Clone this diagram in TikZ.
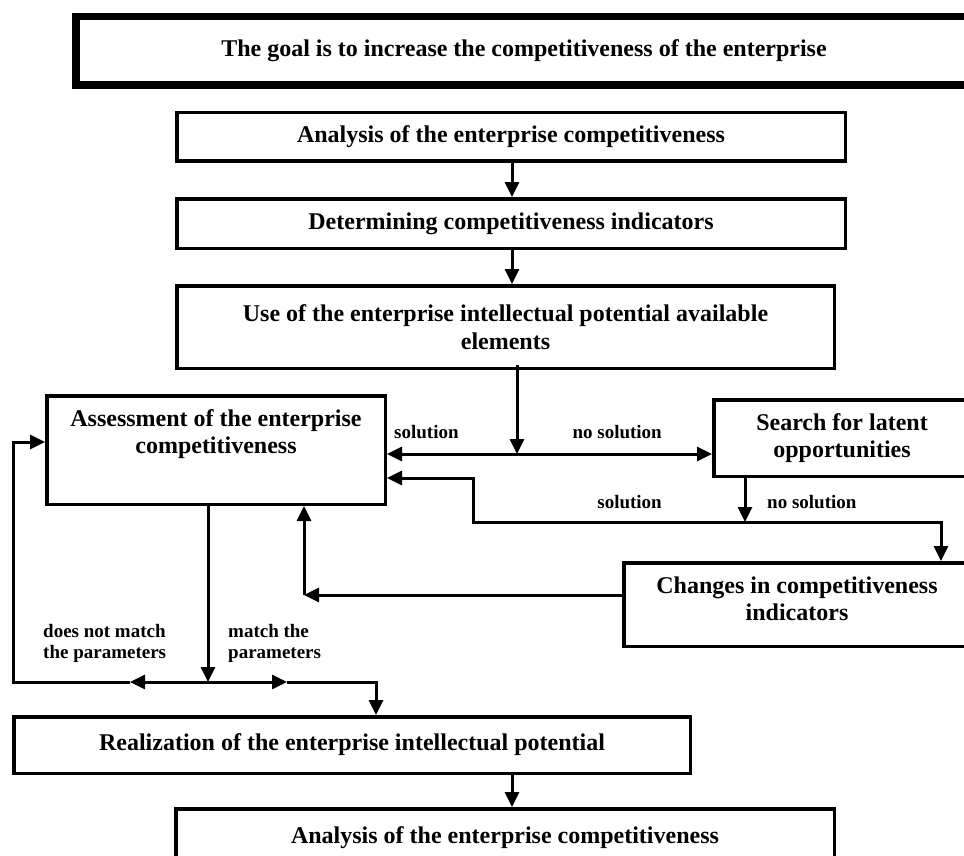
\documentclass[tikz,border=0pt]{standalone}
\usepackage{fontspec}
\setmainfont{Liberation Serif}
\usetikzlibrary{arrows.meta,calc}
\newcommand\dgbig{\bfseries\fontsize{24}{27.5}\selectfont}
\newcommand\dgsmall{\bfseries\fontsize{19}{21}\selectfont}
\begin{document}
\begin{tikzpicture}[x=1pt,y=-1pt,
  box/.style={draw, line width=3.5pt, rectangle, inner sep=0pt, align=center, font=\dgbig},
  goalbox/.style={box, line width=7.5pt},
  txt/.style={inner sep=0pt, align=center, font=\dgbig},
  lbl/.style={inner sep=0pt, align=left, font=\dgsmall},
  arr/.style={line width=3pt, -{Triangle[length=15pt,width=14pt]}},
  darr/.style={line width=3pt, {Triangle[length=15pt,width=14pt]}-{Triangle[length=15pt,width=14pt]}},
  plain/.style={line width=3pt}]
\useasboundingbox (0,0) rectangle (964,856);
\clip (0,0) rectangle (964,856);
\fill[white] (0,0) rectangle (964,856);

% boxes
\node[goalbox, minimum width=896.5pt, minimum height=68.5pt] (goal) at (524,51)
  {The goal is to increase the competitiveness of the enterprise};
\node[box, minimum width=668.5pt, minimum height=48.5pt] (an1) at (511,137)
  {Analysis of the enterprise competitiveness};
\node[box, minimum width=668.5pt, minimum height=49.5pt] (det) at (511,223.5)
  {Determining competitiveness indicators};
\node[box, minimum width=657.5pt, minimum height=82.5pt] (use) at (505.5,327)
  {Use of the enterprise intellectual potential available\\elements};
\node[box, minimum width=338.5pt, minimum height=108.5pt] (assess) at (216,450) {};
\node[txt] (assesst) at (216,434) {Assessment of the enterprise\\competitiveness};
\node[box, minimum width=256.5pt, minimum height=76.5pt] (search) at (842,438)
  {Search for latent\\opportunities};
\node[box, minimum width=346.5pt, minimum height=83.5pt] (changes) at (797,604.5) {};
\node[txt] (changest) at (797,599) {Changes in competitiveness\\indicators};
\node[box, minimum width=676.5pt, minimum height=56.5pt] (real) at (352,745)
  {Realization of the enterprise intellectual potential};
\node[box, minimum width=658.5pt, minimum height=58.5pt] (an2) at (505,838)
  {Analysis of the enterprise competitiveness};

% coordinates
\coordinate (j1) at (517,454);
\coordinate (s1) at (473,478);
\coordinate (s2) at (473,522);
\coordinate (s3) at (941,522);
\coordinate (s4) at (745,522);
\coordinate (c1) at (304,595);
\coordinate (j2) at (208,682);
\coordinate (l2) at (130,682);
\coordinate (r2) at (287,682);
\coordinate (lc) at (13,682);
\coordinate (lt) at (13,442);
\coordinate (rc) at (376,682);

% connectors
\draw[arr] (an1.south -| 512,0) -- (det.north -| 512,0);
\draw[arr] (det.south -| 512,0) -- (use.north -| 512,0);
\draw[arr] ([yshift=5pt]use.south -| j1) -- (j1);
\draw[darr] (assess.east |- j1) -- (search.west |- j1);
\draw[darr] (assess.east |- s1) -- (s1) -- (s2) -- (s3) -- (changes.north -| s3);
\draw[arr] (search.south -| s4) -- (s4);
\draw[arr] (changes.west |- c1) -- (c1);
\draw[arr] (c1) -- (assess.south -| c1);
\draw[arr] (assess.south -| j2) -- (j2);
\draw[arr] (j2) -- (l2);
\draw[arr] (j2) -- (r2);
\draw[arr] (l2) -- (lc) -- (lt) -- (assess.west |- lt);
\draw[arr] (r2) -- (rc) -- (real.north -| rc);
\draw[arr] (real.south -| 512,0) -- (an2.north -| 512,0);

% labels
\node[lbl, anchor=west] (lsol1) at (394,432) {solution};
\node[lbl, anchor=east] (lnos1) at (662,432) {no solution};
\node[lbl, anchor=east] (lsol2) at (662,502) {solution};
\node[lbl, anchor=west] (lnos2) at (767,502) {no solution};
\node[lbl, anchor=west] (lnm) at (43,643) {does not match\\the parameters};
\node[lbl, anchor=west] (lm) at (228,643) {match the\\parameters};
\end{tikzpicture}
\end{document}
